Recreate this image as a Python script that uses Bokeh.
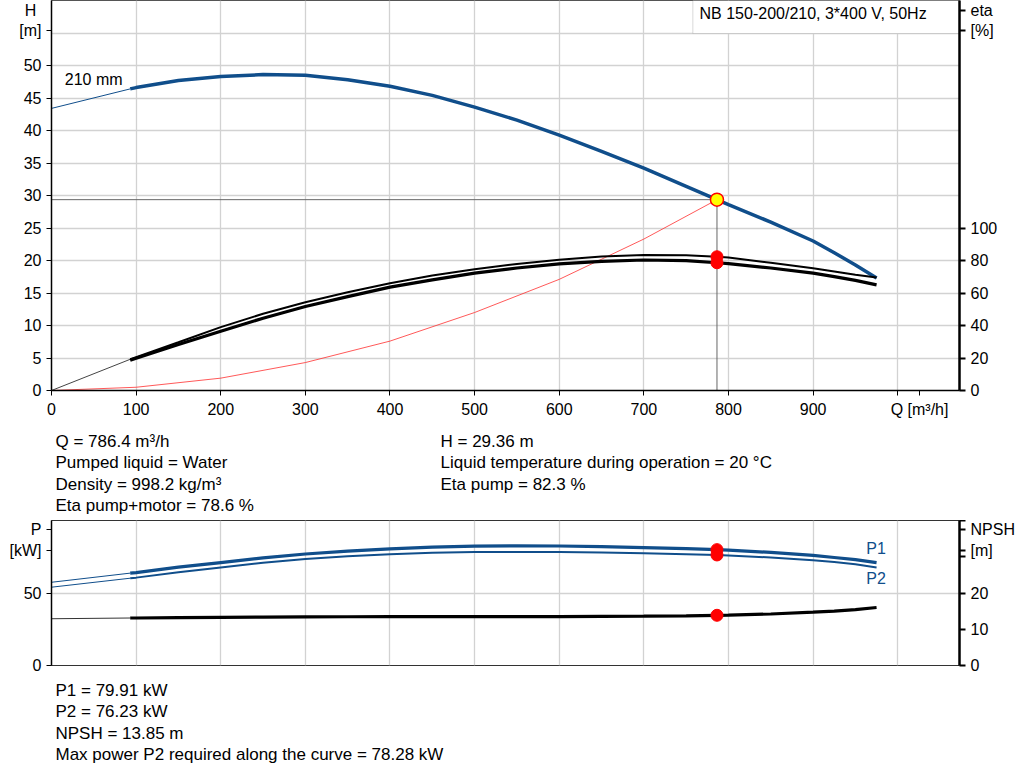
from bokeh.plotting import figure
from bokeh.models import Range1d, LinearAxis, FixedTicker, Label, BoxAnnotation
from bokeh.layouts import column
from bokeh.core.properties import value
from bokeh.embed import file_html
from bokeh.resources import INLINE

FONT = "Liberation Sans"
BLUE = "#104E8B"
GRID = "#d2d2d2"

# duty point
q_duty = 786.4
h_duty = 29.36
eta_pump_duty = 82.3
eta_total_duty = 78.6
p1_duty = 79.91
p2_duty = 76.23
npsh_duty = 13.85

# pump curves, flow in m3/h (0..93 is the thin start part)
q = [0, 93, 100, 150, 200, 250, 300, 350, 400, 450, 500, 550, 600, 650, 700, 750, 786.4, 800, 850, 900, 925, 950, 975]
head = [43.4, 46.4, 46.6, 47.7, 48.3, 48.6, 48.5, 47.8, 46.8, 45.4, 43.6, 41.6, 39.3, 36.8, 34.2, 31.4, 29.36, 28.6, 25.9, 23.0, 21.2, 19.3, 17.3]
eta_pump = [0, 19.2, 20.5, 29.7, 39.0, 47.2, 54.3, 60.5, 66.0, 70.8, 74.6, 77.9, 80.5, 82.4, 83.4, 83.3, 82.3, 81.8, 78.6, 75.2, 73.3, 71.3, 69.5]
eta_total = [0, 18.6, 19.8, 28.3, 36.5, 44.5, 51.7, 57.8, 63.6, 68.1, 72.2, 75.4, 77.9, 79.5, 80.3, 79.9, 78.6, 78.1, 75.4, 72.2, 70.1, 67.8, 65.0]
p1 = [57.4, 63.7, 64.1, 67.8, 71.0, 74.2, 76.9, 78.9, 80.4, 81.6, 82.3, 82.5, 82.4, 82.0, 81.3, 80.6, 79.91, 79.6, 78.0, 75.9, 74.5, 73.0, 71.0]
p2 = [54.0, 60.2, 60.6, 64.3, 67.6, 70.8, 73.5, 75.4, 76.8, 77.8, 78.2, 78.28, 78.2, 77.9, 77.4, 76.8, 76.23, 75.9, 74.5, 72.6, 71.3, 69.9, 67.6]
npsh = [12.9, 13.1, 13.1, 13.2, 13.3, 13.35, 13.4, 13.45, 13.5, 13.5, 13.5, 13.5, 13.5, 13.55, 13.6, 13.7, 13.85, 13.9, 14.2, 14.7, 15.0, 15.4, 16.0]

# system curve
q_sys = [0, 100, 200, 300, 400, 500, 600, 700, 786.4]
h_sys = [0, 0.5, 1.9, 4.3, 7.6, 12.0, 17.1, 23.3, 29.36]

q_ticks = [0, 100, 200, 300, 400, 500, 600, 700, 800, 900, 1000]
h_ticks = [0, 5, 10, 15, 20, 25, 30, 35, 40, 45, 50]
eta_ticks = [0, 20, 40, 60, 80, 100]
p_ticks = [0, 50]
npsh_ticks = [0, 10, 20, 30, 40]

info_top = [["Q = 786.4 m³/h", "Pumped liquid = Water", "Density = 998.2 kg/m³", "Eta pump+motor = 78.6 %"],
            ["H = 29.36 m", "Liquid temperature during operation = 20 °C", "Eta pump = 82.3 %"]]
info_bottom = ["P1 = 79.91 kW", "P2 = 76.23 kW", "NPSH = 13.85 m",
               "Max power P2 required along the curve = 78.28 kW"]

thin = slice(0, 2)
thick = slice(1, None)


def style_axis(ax):
    ax.major_label_text_font = FONT
    ax.major_label_text_font_size = "16px"
    ax.major_label_text_color = "black"
    ax.axis_line_color = "black"
    ax.major_tick_line_color = "black"
    ax.minor_tick_line_color = None
    ax.major_tick_in = 0
    ax.major_tick_out = 5


def text_strip(height, cols):
    # frame is aligned with the plots above (51..959 px), so x runs in page pixels
    t = figure(width=1024, height=height, x_range=Range1d(51, 959), y_range=Range1d(height, 0),
               output_backend="svg", toolbar_location=None, x_axis_type=None, y_axis_type=None,
               min_border=0)
    t.title = None
    t.outline_line_color = None
    t.grid.visible = False
    for x0, ys, lines in cols:
        t.text(x=[x0] * len(lines), y=ys[:len(lines)], text=lines, text_font=value(FONT),
               text_font_size="17px", text_color="black", text_baseline="middle")
    return t


def note(fig, x, y, text, color="black", align="left"):
    return Label(x=x, y=y, text=text, text_font=FONT, text_font_size="16px",
                 text_color=color, text_baseline="middle", text_align=align)


# ---------------- top: head / efficiency ----------------
p = figure(width=1024, height=420, x_range=Range1d(0, 1073), y_range=Range1d(0, 60),
           output_backend="svg", toolbar_location=None,
           min_border_left=51, min_border_right=65, min_border_top=0, min_border_bottom=30)
p.title = None
p.extra_y_ranges = {"eta": Range1d(0, 240)}
p.outline_line_color = "#555555"

p.xaxis.ticker = FixedTicker(ticks=q_ticks + [1025.8])
p.xaxis.major_label_overrides = {1000: "", 1025.8: "Q [m³/h]"}
p.yaxis.ticker = FixedTicker(ticks=h_ticks + [55.4])
p.yaxis.major_label_overrides = {55.4: "[m]"}
style_axis(p.xaxis[0])
style_axis(p.yaxis[0])
p.yaxis.axis_line_width = 1.5
p.xaxis.axis_line_width = 1.5

eta_axis = LinearAxis(y_range_name="eta", ticker=FixedTicker(ticks=eta_ticks + [221.5, 233.8]))
eta_axis.major_label_overrides = {221.5: "[%]", 233.8: "eta"}
style_axis(eta_axis)
eta_axis.axis_line_width = 2.5
eta_axis.major_tick_line_width = 2
eta_axis.major_tick_out = 6
p.add_layout(eta_axis, "right")

# axis name sitting beside the frame, placed in the left side panel
p.add_layout(note(p, -24.8, 58.5, "H", align="center"), "left")

p.xgrid.ticker = FixedTicker(ticks=q_ticks)
p.ygrid.ticker = FixedTicker(ticks=list(range(0, 61, 5)))
p.xgrid.grid_line_color = GRID
p.ygrid.grid_line_color = GRID
p.xgrid.grid_line_width = 1.3
p.ygrid.grid_line_width = 1.3

# duty point helper lines
p.line([0, q_duty], [h_duty, h_duty], line_color="#666666", line_width=1)
p.line([q_duty, q_duty], [h_duty, 0], line_color="#666666", line_width=1)

# system curve
p.line(q_sys, h_sys, line_color="#ff3030", line_width=1, line_alpha=0.8)

# head
p.line(q[thin], head[thin], line_color=BLUE, line_width=1)
p.line(q[thick], head[thick], line_color=BLUE, line_width=3.5)

# efficiencies
p.line(q[thin], eta_pump[thin], line_color="#444444", line_width=1, y_range_name="eta")
p.line(q[thick], eta_pump[thick], line_color="black", line_width=2, y_range_name="eta")
p.line(q[thick], eta_total[thick], line_color="black", line_width=3.2, y_range_name="eta")

p.scatter([q_duty, q_duty], [eta_pump_duty, eta_total_duty], size=12, fill_color="red",
          line_color="red", y_range_name="eta")
p.scatter([q_duty], [h_duty], size=13, fill_color="yellow", line_color="red", line_width=1.5)

p.add_layout(BoxAnnotation(left=757.9, right=1073, bottom=54.92, top=60, fill_color="white",
                           fill_alpha=1, line_color="#808080", line_width=1, level="underlay"))
p.add_layout(note(p, 765.8, 58.0, "NB 150-200/210, 3*400 V, 50Hz"))
p.add_layout(note(p, 15.7, 47.85, "210 mm"))

# ---------------- bottom: power / NPSH ----------------
g = figure(width=1024, height=155, x_range=Range1d(0, 1073), y_range=Range1d(0, 100),
           output_backend="svg", toolbar_location=None,
           min_border_left=51, min_border_right=65, min_border_top=0, min_border_bottom=10)
g.title = None
g.extra_y_ranges = {"npsh": Range1d(0, 40)}
g.outline_line_color = "#333333"

g.xaxis.visible = False
g.yaxis.ticker = FixedTicker(ticks=p_ticks + [79, 93.8])
g.yaxis.major_label_overrides = {79: "[kW]", 93.8: "P"}
style_axis(g.yaxis[0])
g.yaxis.axis_line_width = 1.5

npsh_axis = LinearAxis(y_range_name="npsh", ticker=FixedTicker(ticks=npsh_ticks + [31.7, 37.4]))
npsh_axis.major_label_overrides = {30: "", 40: "", 31.7: "[m]", 37.4: "NPSH"}
style_axis(npsh_axis)
npsh_axis.axis_line_width = 2.5
npsh_axis.major_tick_line_width = 2
npsh_axis.major_tick_out = 6
g.add_layout(npsh_axis, "right")

g.xgrid.ticker = FixedTicker(ticks=q_ticks)
g.ygrid.ticker = FixedTicker(ticks=[0, 50, 100])
g.xgrid.grid_line_color = GRID
g.ygrid.grid_line_color = GRID
g.xgrid.grid_line_width = 1.3
g.ygrid.grid_line_width = 1.3

g.line(q[thin], p1[thin], line_color=BLUE, line_width=1)
g.line(q[thin], p2[thin], line_color=BLUE, line_width=1)
g.line(q[thick], p1[thick], line_color=BLUE, line_width=3.2)
g.line(q[thick], p2[thick], line_color=BLUE, line_width=2)
g.line(q[thin], npsh[thin], line_color="#333333", line_width=1, y_range_name="npsh")
g.line(q[thick], npsh[thick], line_color="black", line_width=3.2, y_range_name="npsh")

g.scatter([q_duty, q_duty], [p1_duty, p2_duty], size=12, fill_color="red", line_color="red")
g.scatter([q_duty], [npsh_duty], size=12, fill_color="red", line_color="red", y_range_name="npsh")

g.add_layout(note(g, 962.8, 81.0, "P1", color=BLUE))
g.add_layout(note(g, 962.8, 59.7, "P2", color=BLUE))

# ---------------- text strips ----------------
t1 = text_strip(100, [(55, [20.5, 42, 63.5, 85], info_top[0]),
                      (440, [20.5, 42, 63.5, 85], info_top[1])])
t2 = text_strip(100, [(55, [14.5, 36, 57.5, 79], info_bottom)])

layout = column(p, t1, g, t2)
html = file_html(layout, INLINE)
html = html.replace("<head>", "<head><style>body{margin:0}</style>", 1)
open("out.html", "w").write(html)
